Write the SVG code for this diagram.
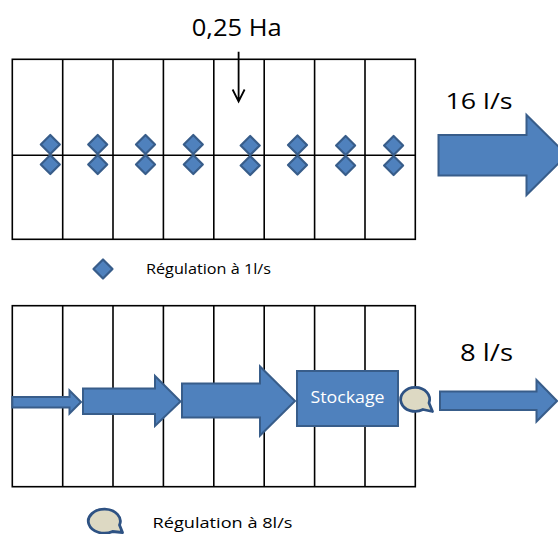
<svg xmlns="http://www.w3.org/2000/svg" width="558" height="534" viewBox="0 0 558 534">
<style>
.grid{fill:none;stroke:#000;stroke-width:1.6}
.blue{fill:#4F81BD;stroke:#385D8A;stroke-width:2;stroke-linejoin:miter}
.dia{fill:#4F81BD;stroke:#385D8A;stroke-width:2.2;stroke-linejoin:round}
.bub{fill:#DDD9C3;stroke:#2E5283;stroke-width:2.8;stroke-linejoin:round}
.t{font-family:"Open Sans","Noto Sans",sans-serif;fill:#000}
</style>
<defs>
<path id="d" class="dia" d="M0,-9.5 L9.5,0 L0,9.5 L-9.5,0 Z"/>
</defs>
<g id="grid-top">
<rect class="grid" x="12.3" y="59.3" width="403" height="180"/>
<path class="grid" d="M62.7,59.3V239.3M113,59.3V239.3M163.4,59.3V239.3M213.8,59.3V239.3M264.2,59.3V239.3M314.6,59.3V239.3M365,59.3V239.3M12.3,155.3H415.3"/>
</g>
<g id="regulators-top">
<use href="#d" x="50.3" y="144.5"/><use href="#d" x="50.3" y="164.5"/>
<use href="#d" x="97.7" y="144.5"/><use href="#d" x="97.7" y="164.5"/>
<use href="#d" x="145.5" y="144.5"/><use href="#d" x="145.5" y="164.5"/>
<use href="#d" x="193.3" y="144.5"/><use href="#d" x="193.3" y="164.5"/>
<use href="#d" x="250.2" y="145.5"/><use href="#d" x="250.2" y="165.5"/>
<use href="#d" x="297.5" y="145"/><use href="#d" x="297.5" y="165"/>
<use href="#d" x="345.6" y="145.5"/><use href="#d" x="345.6" y="165.5"/>
<use href="#d" x="393.6" y="145.5"/><use href="#d" x="393.6" y="165.5"/>
</g>
<g id="label-area">
<text class="t" x="191.7" y="36" font-size="23" textLength="90" lengthAdjust="spacingAndGlyphs">0,25 Ha</text>
</g>
<g id="connectors">
<path d="M238.6,51.7V101.5M232.6,89.5L238.6,101.5L244.6,89.5" fill="none" stroke="#000" stroke-width="1.8"/>
</g>
<g id="out-top">
<text class="t" x="445.5" y="109" font-size="21" textLength="67" lengthAdjust="spacingAndGlyphs">16 l/s</text>
<path class="blue" d="M438.5,135H526.5V115L567,155L526.5,195V175.5H438.5Z"/>
</g>
<g id="legend-1">
<use href="#d" x="103" y="269"/>
<text class="t" x="146" y="274" font-size="14" textLength="125" lengthAdjust="spacingAndGlyphs">Régulation à 1l/s</text>
</g>
<g id="grid-bottom">
<rect class="grid" x="12.3" y="305.7" width="403" height="181"/>
<path class="grid" d="M62.7,305.7V486.7M113,305.7V486.7M163.4,305.7V486.7M213.8,305.7V486.7M264.2,305.7V486.7M314.6,305.7V486.7M365,305.7V486.7"/>
</g>
<g id="flow-arrows">
<path class="blue" d="M12.3,397H69.5V390.5L81,402L69.5,413.5V407.5H12.3Z"/>
<path class="blue" d="M83,388.5H155V376L180.5,401.5L155,426V414H83Z"/>
<path class="blue" d="M182,383.5H260V366.5L295,401L260,435.5V417.5H182Z"/>
</g>
<g id="stockage">
<rect class="blue" x="297" y="371" width="101" height="55"/>
<text x="347.5" y="403" font-size="16" text-anchor="middle" font-family="'Open Sans','Noto Sans',sans-serif" fill="#fff" textLength="74" lengthAdjust="spacingAndGlyphs">Stockage</text>
</g>
<g id="regulator-8">
<path class="bub" d="M429,403A14.5,12 0 1 0 423,409.5L432.5,411.5Z"/>
</g>
<g id="out-bottom">
<text class="t" x="460" y="361" font-size="23" textLength="53" lengthAdjust="spacingAndGlyphs">8 l/s</text>
<path class="blue" d="M440,391.5H536.5V380L557,401L536.5,421.5V410H440Z"/>
</g>
<g id="legend-2">
<path class="bub" d="M119.5,525A16,12 0 1 0 112.5,531.5L122.5,532.5Z"/>
<text class="t" x="152.5" y="528" font-size="15" textLength="140" lengthAdjust="spacingAndGlyphs">Régulation à 8l/s</text>
</g>
</svg>
